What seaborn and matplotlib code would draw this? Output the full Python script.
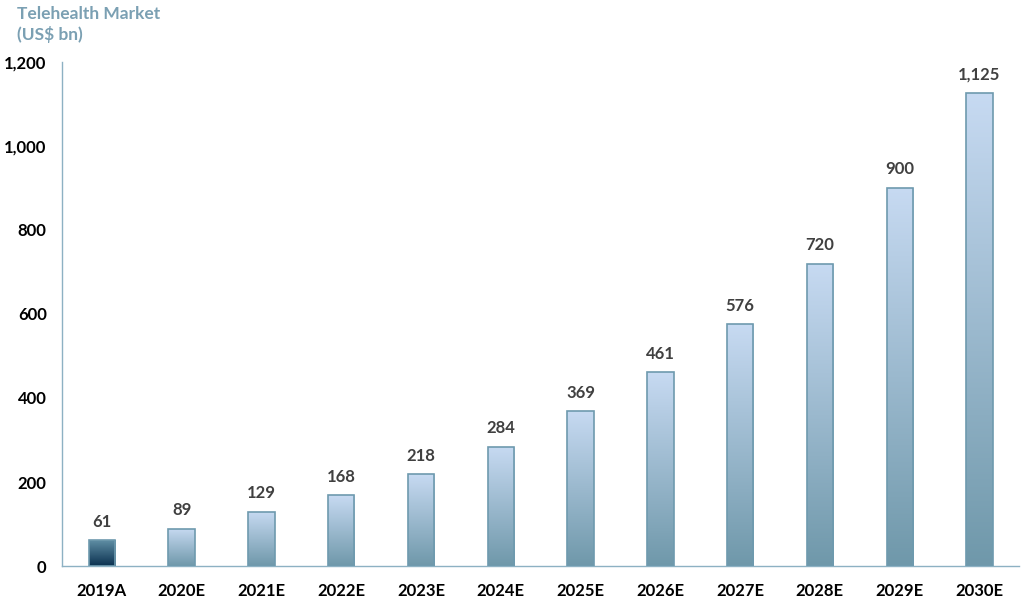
import matplotlib
matplotlib.use("Agg")
import matplotlib.pyplot as plt
import numpy as np
import pandas as pd
import seaborn as sns
from matplotlib.colors import LinearSegmentedColormap

# %% data
years = ["2019A", "2020E", "2021E", "2022E", "2023E", "2024E",
         "2025E", "2026E", "2027E", "2028E", "2029E", "2030E"]
market = [61, 89, 129, 168, 218, 284, 369, 461, 576, 720, 900, 1125]
yticks = [0, 200, 400, 600, 800, 1000, 1200]

df = pd.DataFrame({"year": years, "value": market})

# %% style
sns.set_theme(style="white")
plt.rcParams["font.family"] = ["Lato", "DejaVu Sans"]

spine_col = "#8db1c3"
light_cmap = LinearSegmentedColormap.from_list("light", ["#6f98aa", "#c7daf2"])
dark_cmap = LinearSegmentedColormap.from_list("dark", ["#0b3150", "#5f8ea4"])

fig = plt.figure(figsize=(10.24, 6.07), dpi=100)
ax = fig.add_axes([0.0605, 0.0675, 0.935, 0.8305])

sns.barplot(data=df, x="year", y="value", ax=ax, width=0.33,
            color="#9fbdd0", edgecolor="#6e9aae", linewidth=1.2, zorder=3)

# gradient fill clipped to each bar
grad = np.linspace(0, 1, 256).reshape(-1, 1)
for i, patch in enumerate(ax.patches):
    patch.set_facecolor("none")
    x0 = patch.get_x()
    w = patch.get_width()
    h = patch.get_height()
    cmap = dark_cmap if i == 0 else light_cmap
    im = ax.imshow(grad, cmap=cmap, origin="lower", aspect="auto",
                   extent=[x0, x0 + w, 0, h], zorder=2)
    im.set_clip_path(patch)
    ax.text(x0 + w / 2, h + 25, f"{market[i]:,}", ha="center", va="bottom",
            fontsize=12, fontweight="bold", color="#404040")

ax.set_xlim(-0.5, len(years) - 0.5)
ax.set_ylim(0, 1200)
ax.set_yticks(yticks)
ax.set_yticklabels([f"{v:,}" for v in yticks], fontsize=12, fontweight="bold", color="black")
ax.set_xticks(range(len(years)))
ax.set_xticklabels(years, fontsize=12, fontweight="bold", color="black")
ax.set_xticks(np.arange(-0.5, len(years), 1), minor=True)
ax.tick_params(axis="x", which="major", length=0, pad=12)
ax.tick_params(axis="x", which="minor", length=7, color=spine_col, width=1, direction="out")
ax.tick_params(axis="y", which="major", length=5, color=spine_col, width=1, direction="out", pad=6)
ax.set_xlabel("")
ax.set_ylabel("")

for side in ["top", "right"]:
    ax.spines[side].set_visible(False)
for side in ["left", "bottom"]:
    ax.spines[side].set_color(spine_col)
    ax.spines[side].set_linewidth(1)

fig.text(0.017, 0.99, "Telehealth Market\n(US$ bn)", ha="left", va="top",
         fontsize=12.5, fontweight="bold", color="#7ba0b3", linespacing=1.25)

fig.savefig("out.png", dpi=100)
